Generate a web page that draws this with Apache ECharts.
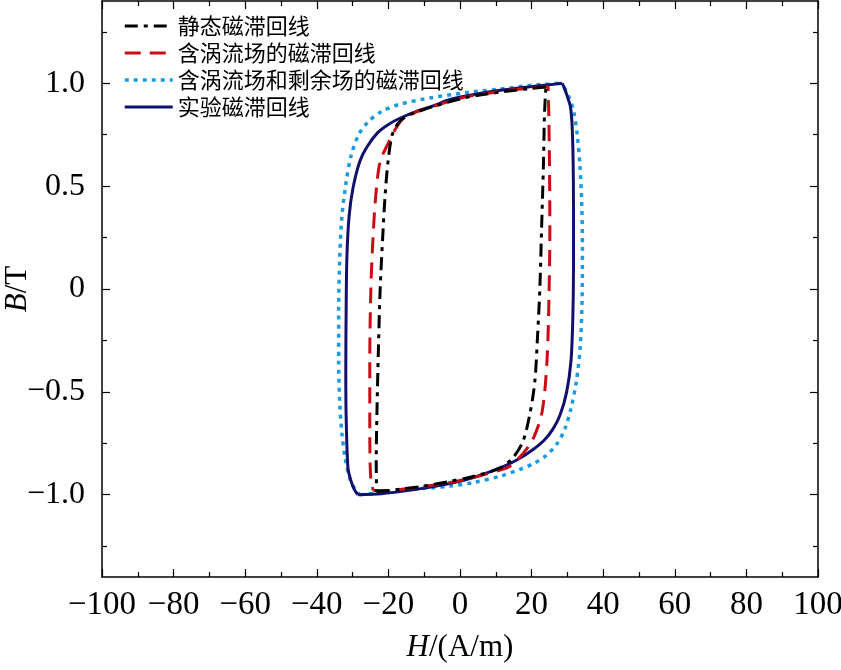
<!DOCTYPE html>
<html>
<head>
<meta charset="utf-8">
<script src="https://cdn.jsdelivr.net/npm/echarts@6/dist/echarts.min.js"></script>
<style>
  html, body { margin: 0; padding: 0; background: #fff; }
  #chart { width: 841px; height: 670px; }
</style>
</head>
<body>
<div id="chart"></div>
<script>
// 图例名称
const names = ['静态磁滞回线', '含涡流场的磁滞回线', '含涡流场和剩余场的磁滞回线', '实验磁滞回线']

// 静态磁滞回线 (上升支 / 下降支), [H, B]
const staticAsc = [[-23.3, -0.985], [-20, -0.98], [-16.8, -0.973], [-10, -0.958], [-2.8, -0.935], [4, -0.91], [11.2, -0.87], [14.8, -0.82], [17.6, -0.74], [19.6, -0.6], [20.9, -0.45], [21.6, -0.25], [22.3, 0], [22.8, 0.3], [23.3, 0.6], [23.6, 0.85], [24, 0.982]]
const staticDesc = [[24, 0.982], [20, 0.975], [11.2, 0.957], [2, 0.932], [-7.5, 0.887], [-12, 0.86], [-15.4, 0.835], [-17.5, 0.8], [-19, 0.745], [-20.1, 0.62], [-20.9, 0.46], [-21.6, 0.25], [-22.3, 0], [-22.8, -0.3], [-23.2, -0.6], [-23.4, -0.85], [-23.3, -0.985]]

// 含涡流场
const eddyAsc = [[-24.2, -0.98], [-20, -0.98], [-16.8, -0.975], [-10, -0.96], [-2.8, -0.94], [4, -0.915], [11.2, -0.88], [14, -0.86], [17.6, -0.8], [20.4, -0.73], [22.9, -0.6], [24.3, -0.35], [24.9, 0], [25.1, 0.3], [25, 0.6], [24.8, 0.85], [24.6, 0.985]]
const eddyDesc = [[24.6, 0.985], [20, 0.978], [11.2, 0.96], [2, 0.935], [-7.5, 0.888], [-12, 0.862], [-15.4, 0.838], [-17.6, 0.79], [-20, 0.71], [-22.3, 0.62], [-23.5, 0.46], [-24.3, 0.25], [-24.9, 0], [-25.2, -0.35], [-25.2, -0.65], [-25.1, -0.85], [-24.8, -0.94], [-24.2, -0.98]]

// 含涡流场和剩余场
const resAsc = [[-28, -1.0], [-22, -0.99], [-16.8, -0.978], [-8, -0.967], [-2.8, -0.958], [4, -0.94], [11.2, -0.91], [17, -0.875], [20.4, -0.85], [24, -0.81], [27, -0.755], [29.3, -0.68], [31, -0.58], [32.5, -0.45], [33.6, -0.28], [34.1, -0.05], [34.2, 0.2], [34, 0.42], [33.5, 0.6], [32.8, 0.74], [31.8, 0.86], [30.4, 0.935], [29, 0.98], [27.5, 1.0]]
const resDesc = [[27.5, 1.0], [20, 0.99], [11.2, 0.972], [2, 0.955], [-8, 0.93], [-16.8, 0.898], [-22, 0.862], [-25.7, 0.812], [-28.3, 0.75], [-30.4, 0.65], [-31.8, 0.52], [-33, 0.35], [-33.6, 0.15], [-33.9, -0.1], [-33.9, -0.35], [-33.6, -0.55], [-33, -0.7], [-32.1, -0.82], [-30.8, -0.92], [-29.3, -0.975], [-28, -1.0]]

// 实验磁滞回线
const expAsc = [[-28.5, -1.0], [-22, -0.995], [-16.8, -0.985], [-10, -0.968], [-3, -0.946], [4, -0.915], [11.2, -0.87], [16, -0.83], [20.4, -0.78], [23.5, -0.735], [26, -0.68], [28, -0.61], [29.8, -0.5], [31, -0.35], [31.5, -0.15], [31.7, 0.1], [31.7, 0.4], [31.6, 0.62], [31.3, 0.8], [30.8, 0.89], [29.9, 0.94], [29.2, 0.975], [28.5, 1.0]]
const expDesc = [[28.5, 1.0], [25, 0.993], [20.4, 0.985], [11.2, 0.966], [2, 0.94], [-3, 0.92], [-7.5, 0.89], [-12, 0.865], [-16.8, 0.83], [-20, 0.8], [-23, 0.76], [-26, 0.69], [-28, 0.62], [-29.9, 0.49], [-31, 0.35], [-31.6, 0.15], [-31.8, -0.1], [-31.9, -0.4], [-31.8, -0.62], [-31.3, -0.87], [-30.5, -0.93], [-29.5, -0.975], [-28.5, -1.0]]

// 刻度
const yMajor = [-1, -0.5, 0, 0.5, 1]
const yMinor = [-1.25, -0.75, -0.25, 0.25, 0.75, 1.25]

const black = '#000'
const serif = 'Liberation Serif'
const axisLine = { show: true, onZero: false, lineStyle: { color: black, width: 1.5 } }
const tickStyle = { color: black, width: 1.2 }

function fmtY(v) {
  if (v === 0) return '0'
  return (v < 0 ? '\u2212' : '') + Math.abs(v).toFixed(1)
}
function fmtX(v) {
  return v < 0 ? '\u2212' + (-v) : String(v)
}

const xBase = { type: 'value', min: -100, max: 100, interval: 20, splitLine: { show: false } }
const yBase = { type: 'value', min: -1.4, max: 1.4, splitLine: { show: false } }

const colors = ['#000000', '#cc0a14', '#1c9be0', '#10106e']
const styles = [
  { width: 3, type: [13, 6, 4, 6] },
  { width: 3, type: [16, 9] },
  { width: 3.5, type: [4, 5] },
  { width: 3, type: 'solid' }
]

function mkSeries(idx, data) {
  return {
    name: names[idx],
    type: 'line',
    data: data,
    symbol: 'none',
    smooth: 0.3,
    color: colors[idx],
    lineStyle: Object.assign({ color: colors[idx] }, styles[idx]),
    animation: false
  }
}

const legendData = names.map((n, i) => ({
  name: n,
  itemStyle: { color: 'rgba(0,0,0,0)', borderColor: 'rgba(0,0,0,0)', borderWidth: 0 },
  lineStyle: Object.assign({ color: colors[i] }, styles[i])
}))

const chart = echarts.init(document.getElementById('chart'))
chart.setOption({
  animation: false,
  grid: { left: 102, right: 23, top: 1, bottom: 93, containLabel: false, outerBoundsMode: 'none' },
  legend: {
    orient: 'vertical',
    left: 123,
    top: 15,
    padding: 0,
    itemWidth: 48,
    itemHeight: 12,
    itemGap: 5,
    data: legendData,
    textStyle: { fontFamily: 'Noto Sans CJK SC', fontSize: 22, color: black }
  },
  xAxis: [
    Object.assign({}, xBase, {
      position: 'bottom',
      axisLine: axisLine,
      axisTick: { inside: true, length: 8, lineStyle: tickStyle },
      minorTick: { show: true, splitNumber: 2, length: 5, lineStyle: tickStyle },
      axisLabel: { formatter: fmtX, color: black, fontFamily: serif, fontSize: 33, margin: 12 },
      name: '{i|H}/(A/m)',
      nameLocation: 'middle',
      nameGap: 55,
      nameTextStyle: {
        color: black, fontFamily: serif, fontSize: 31,
        rich: { i: { fontStyle: 'italic', fontFamily: serif, fontSize: 31, color: black } }
      }
    }),
    Object.assign({}, xBase, {
      position: 'top',
      axisLine: axisLine,
      axisTick: { inside: true, length: 8, lineStyle: tickStyle },
      minorTick: { show: true, splitNumber: 2, length: 5, lineStyle: tickStyle },
      axisLabel: { show: false }
    })
  ],
  yAxis: [
    Object.assign({}, yBase, {
      position: 'left',
      axisLine: axisLine,
      axisTick: { inside: true, length: 8, customValues: yMajor, lineStyle: tickStyle },
      axisLabel: { customValues: yMajor, formatter: fmtY, color: black, fontFamily: serif, fontSize: 32, margin: 17 },
      name: '{i|B}/T',
      nameLocation: 'middle',
      nameGap: 69,
      nameMoveOverlap: false,
      nameTextStyle: {
        color: black, fontFamily: serif, fontSize: 31,
        rich: { i: { fontStyle: 'italic', fontFamily: serif, fontSize: 31, color: black } }
      }
    }),
    Object.assign({}, yBase, {
      position: 'left',
      axisLine: { show: false, onZero: false },
      axisTick: { inside: true, length: 5, customValues: yMinor, lineStyle: tickStyle },
      axisLabel: { show: false }
    }),
    Object.assign({}, yBase, {
      position: 'right',
      axisLine: axisLine,
      axisTick: { inside: true, length: 8, customValues: yMajor, lineStyle: tickStyle },
      axisLabel: { show: false }
    }),
    Object.assign({}, yBase, {
      position: 'right',
      axisLine: { show: false, onZero: false },
      axisTick: { inside: true, length: 5, customValues: yMinor, lineStyle: tickStyle },
      axisLabel: { show: false }
    })
  ],
  series: [
    mkSeries(2, resAsc), mkSeries(2, resDesc),
    mkSeries(3, expAsc), mkSeries(3, expDesc),
    mkSeries(1, eddyAsc), mkSeries(1, eddyDesc),
    mkSeries(0, staticAsc), mkSeries(0, staticDesc)
  ]
})
</script>
</body>
</html>
